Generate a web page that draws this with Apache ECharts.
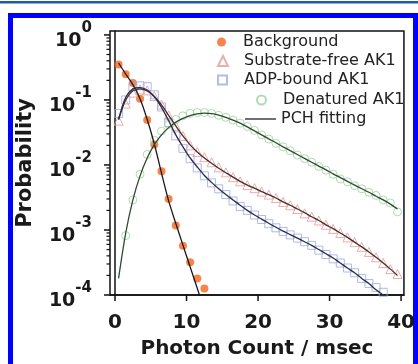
<!DOCTYPE html>
<html><head><meta charset="utf-8">
<script src="https://cdn.jsdelivr.net/npm/echarts@6/dist/echarts.min.js"></script>
<style>html,body{margin:0;padding:0;background:#fff}#c{width:418px;height:364px}</style>
</head><body><div id="c"></div>
<script>
// ---- data ----
const counts = [0.5,1.5,2.5,3.5,4.5,5.5,6.5,7.5,8.5,9.5,10.5,11.5,12.5,13.5,14.5,15.5,16.5,17.5,18.5,19.5,
                20.5,21.5,22.5,23.5,24.5,25.5,26.5,27.5,28.5,29.5,30.5,31.5,32.5,33.5,34.5,35.5,36.5,37.5,38.5,39.5];
const background = [0.352,0.249,0.182,0.104,0.049,0.0206,0.008,0.003,0.00117,0.00057,0.00032,0.00018,0.000126];
const backgroundFit = [0.37,0.25,0.172,0.104,0.05,0.021,0.0075,0.0028,0.00126,0.000585,0.000272,0.000127,0.000059];
const substrateFree = [0.048,0.088,0.13,0.145,0.14,0.115,0.085,0.058,0.04,0.028,0.02,0.0158,0.0132,0.011,0.0092,0.0077,
                       0.0065,0.0056,0.0049,0.0044,0.0039,0.0035,0.0031,0.0027,0.0024,0.0021,0.0018,0.0016,0.0014,0.0012,
                       0.00104,0.0009,0.00077,0.00065,0.00055,0.00046,0.00038,0.00031,0.00025,0.00021];
const substrateFreeFit = [0.05,0.1,0.138,0.148,0.138,0.113,0.084,0.058,0.04,0.028,0.0204,0.0158,0.0128,0.0106,0.0089,0.0076,
                          0.0065,0.0056,0.0049,0.0044,0.0039,0.0035,0.0031,0.0027,0.0024,0.0021,0.00185,0.0016,0.0014,0.0012,
                          0.00105,0.0009,0.00077,0.00065,0.00055,0.00046,0.00038,0.00031,0.00025,0.0002];
const adpBound = [0.062,0.1,0.16,0.165,0.16,0.12,0.078,0.045,0.028,0.018,0.0125,0.009,0.0068,0.0053,0.0043,0.0035,
                  0.0028,0.0023,0.002,0.0017,0.00145,0.00125,0.00108,0.00095,0.00084,0.00075,0.00066,0.00058,0.00049,0.00042,
                  0.00036,0.00031,0.00026,0.00022,0.00018,0.00015,0.00013,0.00011];
const adpBoundFit = [0.05,0.11,0.148,0.155,0.142,0.112,0.077,0.048,0.029,0.019,0.0128,0.0093,0.0069,0.0054,0.0043,0.0035,
                     0.0029,0.0024,0.002,0.0017,0.00147,0.00127,0.0011,0.00096,0.00085,0.00075,0.00066,0.00058,0.0005,0.00043,
                     0.00037,0.00031,0.00026,0.00022,0.00018,0.00015,0.00012,0.0001];
const denatured = [null,0.00082,0.0029,0.0072,0.0145,0.024,0.033,0.042,0.05,0.057,0.062,0.064,0.064,0.062,0.058,0.054,
                   0.049,0.044,0.039,0.034,0.029,0.025,0.0215,0.019,0.0165,0.0142,0.0125,0.011,0.0095,0.0083,
                   0.0072,0.0061,0.0055,0.0048,0.0043,0.0038,0.0034,0.0029,0.0026,0.0019];
const denaturedFit = [0.00018,0.0009,0.0029,0.0068,0.0128,0.0205,0.029,0.0375,0.0455,0.052,0.0575,0.061,0.0628,0.0618,0.0585,0.0538,
                      0.049,0.044,0.0385,0.0335,0.029,0.0252,0.022,0.019,0.0166,0.0145,0.0126,0.011,0.0096,0.0084,
                      0.0073,0.0064,0.0056,0.0049,0.0043,0.0038,0.0033,0.0029,0.0025,0.0021];
const xTickValues = [0,10,20,30,40];
const yMajorTicks = [0.0001,0.001,0.01,0.1,1];
const yMinorTicks = [0.0002,0.0003,0.0004,0.0005,0.0006,0.0007,0.0008,0.0009,
                     0.002,0.003,0.004,0.005,0.006,0.007,0.008,0.009,
                     0.02,0.03,0.04,0.05,0.06,0.07,0.08,0.09,
                     0.2,0.3,0.4,0.5,0.6,0.7,0.8,0.9];

function pairs(xs, ys){ return ys.map((y,i)=>[xs[i], y]); }

const FONT = 'DejaVu Sans';
const chart = echarts.init(document.getElementById('c'), null, {renderer:'canvas'});

function legendRow(item, left, top, itemWidth, itemHeight, padLeft){
  return {
    data:[item], left:left, top:top, orient:'vertical', itemWidth:itemWidth, itemHeight:itemHeight,
    padding:0, itemGap:0, selectedMode:false,
    textStyle:{fontFamily:FONT, fontSize:16, color:'#222', lineHeight:18, padding:[0,0,0,padLeft]}
  };
}

chart.setOption({
  animation:false,
  backgroundColor:'#fff',
  graphic:[
    {type:'rect', shape:{x:0,y:1,width:418,height:2.5}, style:{fill:'#1f5aa6'}, silent:true},
    {type:'rect', shape:{x:10.5,y:15.5,width:405,height:400}, style:{fill:null, stroke:'#0000ff', lineWidth:5}, silent:true}
  ],
  grid:{left:110, right:10, top:31, bottom:64, show:true, borderColor:'#111', borderWidth:1.5, backgroundColor:'transparent'},
  legend:[
    legendRow({name:'Background', icon:'circle'}, 217, 33, 9, 9, 12),
    legendRow({name:'Substrate-free AK1', icon:'triangle'}, 217, 52, 10, 10, 11),
    legendRow({name:'ADP-bound AK1', icon:'rect'}, 217, 71, 9, 9, 12),
    legendRow({name:'Denatured AK1', icon:'circle'}, 256, 91, 9, 9, 12),
    legendRow({name:'PCH fitting', icon:'rect', itemStyle:{color:'#333'}}, 245, 110, 31, 1.4, 0)
  ],
  xAxis:{
    type:'value', min:-0.7, max:40.4,
    name:'Photon Count / msec', nameLocation:'middle', nameGap:44,
    nameTextStyle:{fontFamily:FONT, fontWeight:'bold', fontSize:20, color:'#1a1a1a'},
    axisLine:{show:true, lineStyle:{color:'#111', width:1.5}},
    axisTick:{show:false}, splitLine:{show:false},
    axisLabel:{margin:18, fontFamily:FONT, fontWeight:'bold', fontSize:20, color:'#1a1a1a',
      formatter:v => (Math.abs(v % 10) < 1e-9 ? String(v) : '')}
  },
  yAxis:{
    type:'log', logBase:10, min:0.0001, max:1.149,
    name:'Probability', nameLocation:'middle', nameGap:74,
    nameTextStyle:{fontFamily:FONT, fontWeight:'bold', fontSize:21, color:'#1a1a1a'},
    axisLine:{show:true, lineStyle:{color:'#111', width:1.5}},
    axisTick:{show:false}, splitLine:{show:false}, minorTick:{show:false},
    axisLabel:{margin:18, color:'#1a1a1a',
      formatter:v => { const l = Math.log10(v); const e = Math.round(l);
        if (Math.abs(l - e) > 1e-6) return ''; return '{b|10}{s|' + e + '}'; },
      rich:{
        b:{fontFamily:FONT, fontWeight:'bold', fontSize:19, color:'#1a1a1a', padding:[13,0,0,0]},
        s:{fontFamily:FONT, fontWeight:'bold', fontSize:15, color:'#1a1a1a', padding:[0,0,13,0]}
      }}
  },
  series:[
    {name:'Background', type:'scatter', data:pairs(counts, background), symbol:'circle', symbolSize:8,
     itemStyle:{color:'#f2661e'}, z:3},
    {name:'Substrate-free AK1', type:'scatter', data:pairs(counts, substrateFree), symbol:'triangle', symbolSize:9,
     itemStyle:{color:'rgba(0,0,0,0)', borderColor:'#e59a9a', borderWidth:1}, z:3},
    {name:'ADP-bound AK1', type:'scatter', data:pairs(counts, adpBound), symbol:'rect', symbolSize:8,
     itemStyle:{color:'rgba(0,0,0,0)', borderColor:'#9eaadd', borderWidth:1}, z:3},
    {name:'Denatured AK1', type:'scatter', data:pairs(counts, denatured), symbol:'circle', symbolSize:8,
     itemStyle:{color:'rgba(0,0,0,0)', borderColor:'#9fd09f', borderWidth:1}, z:3},
    {name:'PCH fitting', type:'line', data:pairs(counts, backgroundFit), symbol:'none', smooth:0.3,
     itemStyle:{color:'#333'}, lineStyle:{color:'#1a1a1a', width:1.3}, z:5},
    {name:'PCH fitting', type:'line', data:pairs(counts, substrateFreeFit), symbol:'none', smooth:0.3,
     itemStyle:{color:'#333'}, lineStyle:{color:'#4a2c2c', width:1.3}, z:5},
    {name:'PCH fitting', type:'line', data:pairs(counts, adpBoundFit), symbol:'none', smooth:0.3,
     itemStyle:{color:'#333'}, lineStyle:{color:'#2c2c4a', width:1.3}, z:5},
    {name:'PCH fitting', type:'line', data:pairs(counts, denaturedFit), symbol:'none', smooth:0.3,
     itemStyle:{color:'#333'}, lineStyle:{color:'#2c4a30', width:1.3}, z:5},
    // axis ticks
    {type:'custom', silent:true, clip:false, z:6, data:yMajorTicks.map(v=>[0, v]),
     renderItem:(params, api)=>{ const y = api.coord([0, api.value(1)])[1]; const x = params.coordSys.x;
       return {type:'line', shape:{x1:x-6, y1:y, x2:x, y2:y}, style:{stroke:'#111', lineWidth:1.5}}; }},
    {type:'custom', silent:true, clip:false, z:6, data:yMinorTicks.map(v=>[0, v]),
     renderItem:(params, api)=>{ const y = api.coord([0, api.value(1)])[1]; const x = params.coordSys.x;
       return {type:'line', shape:{x1:x-3.5, y1:y, x2:x, y2:y}, style:{stroke:'#111', lineWidth:1.2}}; }},
    {type:'custom', silent:true, clip:false, z:6, data:xTickValues.map(v=>[v, 1]),
     renderItem:(params, api)=>{ const x = api.coord([api.value(0), 1])[0]; const y = params.coordSys.y + params.coordSys.height;
       return {type:'line', shape:{x1:x, y1:y, x2:x, y2:y+6}, style:{stroke:'#111', lineWidth:1.5}}; }}
  ]
});
</script></body></html>
